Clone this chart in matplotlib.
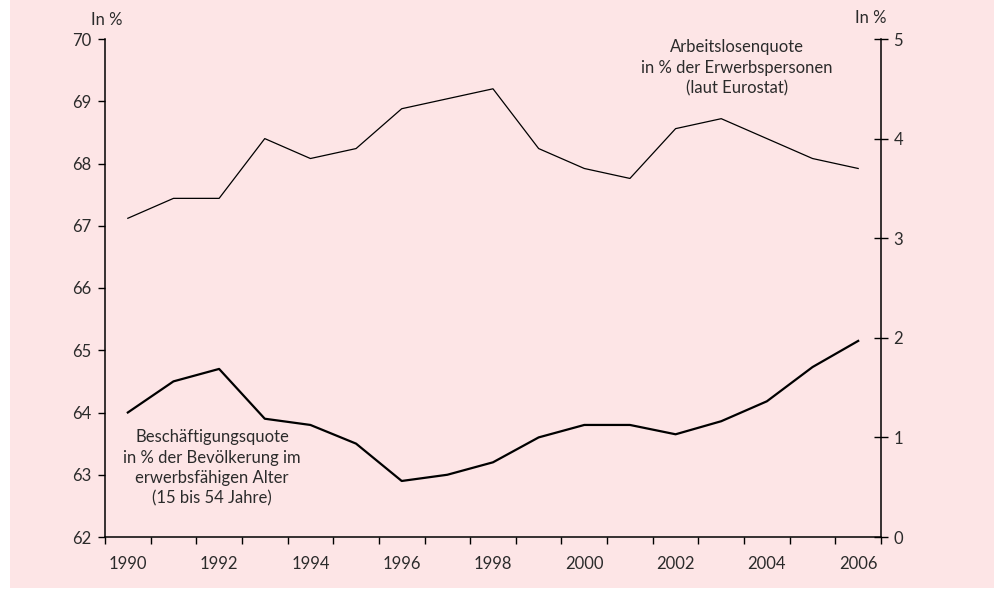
import matplotlib
matplotlib.use("Agg")
import matplotlib.pyplot as plt
from matplotlib.patches import Rectangle

years = list(range(1990, 2007))
employment_rate = [64.0, 64.5, 64.7, 63.9, 63.8, 63.5, 62.9, 63.0, 63.2, 63.6,
                   63.8, 63.8, 63.65, 63.86, 64.18, 64.73, 65.15]
unemployment_rate = [3.2, 3.4, 3.4, 4.0, 3.8, 3.9, 4.3, 4.4, 4.5, 3.9,
                     3.7, 3.6, 4.1, 4.2, 4.0, 3.8, 3.7]
left_ticks = [62, 63, 64, 65, 66, 67, 68, 69, 70]
right_ticks = [0, 1, 2, 3, 4, 5]
label_years = [1990, 1992, 1994, 1996, 1998, 2000, 2002, 2004, 2006]

W, H = 994, 589
bg = "#fde5e6"
txt = "#2b2b2b"
fs = 12
plt.rcParams['font.family'] = ['Lato', 'DejaVu Sans']

fig = plt.figure(figsize=(W / 100, H / 100), dpi=100, facecolor="white")
fig.add_artist(Rectangle((10 / W, 1 / H), 1 - 10 / W, 1 - 1 / H,
                         transform=fig.transFigure, facecolor=bg,
                         edgecolor="none", zorder=-10))

left, right, bottom, top = 105 / W, 881 / W, (H - 537) / H, (H - 39) / H
ax = fig.add_axes([left, bottom, right - left, top - bottom])
ax.set_facecolor("none")
ax2 = ax.twinx()
ax2.set_facecolor("none")

x = list(range(len(years)))
ax.plot(x, employment_rate, color="black", lw=1.6)
ax2.plot(x, unemployment_rate, color="black", lw=0.9)

ax.set_xlim(-0.5, len(years) - 0.5)
ax.set_ylim(62, 70)
ax2.set_ylim(0, 5)

# x ticks at bin boundaries, labels at bin centers
ax.set_xticks([i - 0.5 for i in range(len(years) + 1)])
ax.set_xticklabels([])
ax.tick_params(axis="x", which="major", direction="out", length=5, width=1, color="black")
ax.set_xticks([years.index(y) for y in label_years], minor=True)
ax.set_xticklabels([str(y) for y in label_years], minor=True)
ax.tick_params(axis="x", which="minor", length=0, pad=14, labelsize=fs, labelcolor=txt)

ax.set_yticks(left_ticks)
ax.set_yticklabels([str(t) for t in left_ticks])
ax.tick_params(axis="y", direction="out", length=5, width=1, labelsize=fs,
               labelcolor=txt, pad=5)

ax2.set_yticks(right_ticks)
ax2.set_yticklabels([str(t) for t in right_ticks])
ax2.tick_params(axis="y", direction="inout", length=10, width=1, labelsize=fs,
                labelcolor=txt, pad=4)

for a in (ax, ax2):
    a.spines["top"].set_visible(False)
    for s in ("left", "right", "bottom"):
        a.spines[s].set_linewidth(1.1)
ax.spines["right"].set_visible(False)
ax2.spines["left"].set_visible(False)
ax2.spines["bottom"].set_visible(False)

fig.text(107 / W, 1 - 20 / H, "In %", ha="center", va="center", fontsize=fs, color=txt)
fig.text(871 / W, 1 - 18 / H, "In %", ha="center", va="center", fontsize=fs, color=txt)

fig.text(737 / W, 1 - 68 / H, "Arbeitslosenquote\nin % der Erwerbspersonen\n(laut Eurostat)",
         ha="center", va="center", fontsize=fs, color=txt, linespacing=1.35)
fig.text(212 / W, 1 - 468 / H,
         "Beschäftigungsquote\nin % der Bevölkerung im\nerwerbsfähigen Alter\n(15 bis 54 Jahre)",
         ha="center", va="center", fontsize=fs, color=txt, linespacing=1.35)

fig.savefig("out.png", dpi=100, facecolor="white")
